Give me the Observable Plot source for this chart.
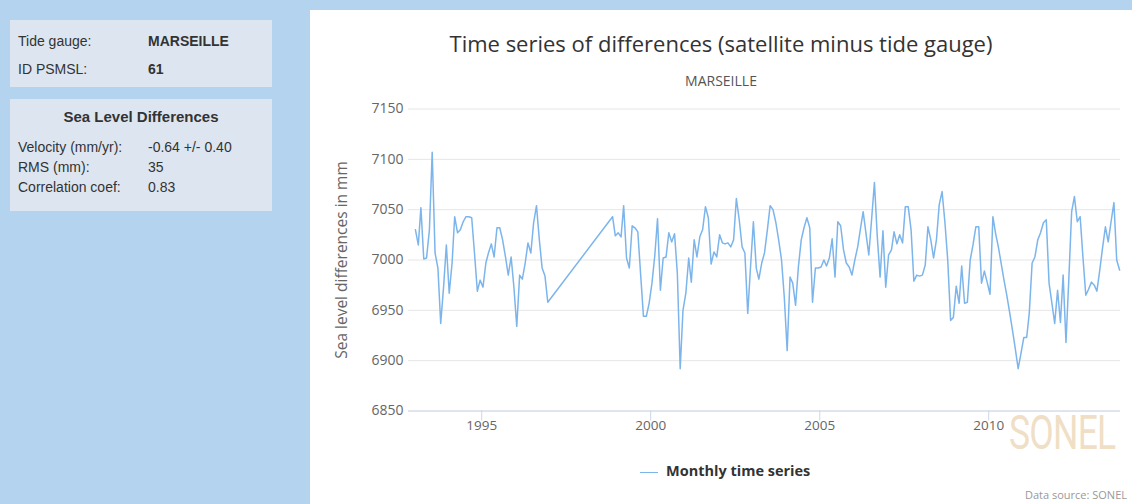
<!DOCTYPE html>
<html>
<head>
<meta charset="utf-8">
<script src="https://cdn.jsdelivr.net/npm/d3@7"></script>
<script src="https://cdn.jsdelivr.net/npm/@observablehq/plot@0.6"></script>
<style>
  html, body { margin: 0; padding: 0; }
  body { width: 1132px; height: 504px; background: #b3d3ee; position: relative; overflow: hidden; font-family: "Liberation Sans", Arial, sans-serif; }
  .panel { position: absolute; left: 10px; width: 262px; background: #dde6f0; color: #333; font-size: 14px; }
  .row { position: absolute; left: 8px; white-space: nowrap; }
  .val { position: absolute; left: 138px; white-space: nowrap; }
  #chartbox { position: absolute; left: 310px; top: 10px; width: 822px; height: 494px; background: #fff; }
  #title { position: absolute; left: 0; width: 822px; top: 18px; text-align: center; font-family: "Open Sans", sans-serif; font-size: 22px; line-height: 30px; color: #333; white-space: nowrap; }
  #subtitle { position: absolute; left: 0; width: 822px; top: 62px; text-align: center; font-family: "Open Sans", sans-serif; font-size: 14px; line-height: 18px; color: #555; }
  #plot { position: absolute; left: 0; top: 78px; }
  #legend { position: absolute; left: 330px; top: 451px; font-family: "Open Sans", sans-serif; font-size: 14.5px; font-weight: bold; color: #333; white-space: nowrap; }
  #legend .swatch { display: inline-block; width: 18px; height: 0; border-top: 1.5px solid #7cb5ec; vertical-align: middle; margin-right: 8px; }
  #source { position: absolute; right: 5px; top: 477px; font-family: "Open Sans", sans-serif; font-size: 11px; color: #999; }
  #watermark { position: absolute; left: 699px; top: 394px; font-family: "Roboto", "Open Sans", sans-serif; font-size: 48px; color: #f0dfc6; letter-spacing: -1px; transform: scaleX(0.74); transform-origin: left top; }
</style>
</head>
<body>
<div class="panel" style="top:20px;height:67px;">
  <div class="row" style="top:13px;">Tide gauge:</div><div class="val" style="top:13px;font-weight:bold;">MARSEILLE</div>
  <div class="row" style="top:41px;">ID PSMSL:</div><div class="val" style="top:41px;font-weight:bold;">61</div>
</div>
<div class="panel" style="top:99px;height:112px;">
  <div style="position:absolute;left:0;width:262px;top:9px;text-align:center;font-weight:bold;font-size:15px;">Sea Level Differences</div>
  <div class="row" style="top:40px;">Velocity (mm/yr):</div><div class="val" style="top:40px;">-0.64 +/- 0.40</div>
  <div class="row" style="top:60px;">RMS (mm):</div><div class="val" style="top:60px;">35</div>
  <div class="row" style="top:80px;">Correlation coef:</div><div class="val" style="top:80px;">0.83</div>
</div>
<div id="chartbox">
  <div id="title">Time series of differences (satellite minus tide gauge)</div>
  <div id="subtitle">MARSEILLE</div>
  <div id="watermark">SONEL</div>
  <div id="plot"></div>
  <div id="legend"><span class="swatch"></span>Monthly time series</div>
  <div id="source">Data source: SONEL</div>
</div>
<script>
// Monthly sea level differences (mm), first segment: Jan 1993 – Dec 1996
const seg1Start = [1993, 0];
const seg1Values = [7030,7015,7052,7001,7002,7030,7107,7007,6992,6937,6973,7015,
  6967,6997,7043,7027,7030,7038,7043,7043,7042,7007,6969,6980,
  6973,6997,7007,7016,7003,7032,7032,7020,7003,6985,7003,6973,
  6934,6985,6981,6997,7017,7007,7037,7054,7020,6992,6984,6958];
// Second segment: Nov 1998 – Nov 2013
const seg2Start = [1998, 10];
const seg2Values = [7043,7024,7027,7023,7054,7002,6992,7034,7032,7028,
  6985,6944,6944,6957,6977,7005,7041,6970,7002,7003,
  7027,7018,7026,6987,6892,6950,6967,7002,6978,7020,
  7003,7023,7030,7053,7042,6996,7008,7003,7025,7017,
  7016,7017,7013,7020,7061,7040,7013,7007,6947,6993,
  7038,6992,6981,6997,7007,7030,7054,7050,7037,7020,
  7000,6963,6910,6983,6977,6955,6993,7020,7032,7042,
  7032,6958,6992,6992,6993,7000,6994,7002,7021,6983,
  7038,7034,7010,6997,6993,6985,7000,7013,7030,7048,
  7027,7005,7040,7077,7023,6983,7029,6973,7005,7010,
  7028,7016,7025,7017,7053,7053,7030,6979,6985,6984,
  6985,6995,7033,7020,7002,7020,7055,7068,7037,7000,
  6940,6943,6974,6957,6994,6957,6958,7000,7015,7033,
  7033,6977,6989,6978,6966,7043,7027,7013,6997,6980,
  6965,6948,6930,6912,6892,6907,6923,6923,6947,6997,
  7003,7020,7027,7037,7040,6977,6957,6937,6970,6938,
  6985,6918,6980,7048,7063,7038,7043,7003,6965,6971,
  6978,6975,6969,6990,7012,7033,7018,7038,7057,7000,6990];
const yTicks = [6850, 6900, 6950, 7000, 7050, 7100, 7150];
const xTickYears = [1995, 2000, 2005, 2010];
const yLabel = "Sea level differences in mm";

const toRows = (start, vals) => vals.map((v, i) => ({
  date: new Date(Date.UTC(start[0], start[1] + i, 15)), value: v
}));
const data = toRows(seg1Start, seg1Values).concat(toRows(seg2Start, seg2Values));
const xTicks = xTickYears.map(y => new Date(Date.UTC(y, 0, 1)));

const chart = Plot.plot({
  width: 822,
  height: 370,
  marginLeft: 98,
  marginRight: 12,
  marginTop: 20.5,
  marginBottom: 47.5,
  style: { fontFamily: "'Open Sans', sans-serif", background: "transparent", overflow: "visible" },
  x: { type: "utc", domain: [new Date(Date.UTC(1992, 10, 1)), new Date(Date.UTC(2013, 10, 25))] },
  y: { domain: [6850, 7150] },
  marks: [
    Plot.gridY(yTicks, { stroke: "#e6e6e6", strokeOpacity: 1 }),
    Plot.ruleY([6850], { stroke: "#ccd6eb" }),
    Plot.axisY(yTicks, { tickSize: 0, tickPadding: 5, fontSize: 14, fill: "#666", tickFormat: d => String(d), label: null }),
    Plot.text([yLabel], { text: d => d, frameAnchor: "left", textAnchor: "middle", lineAnchor: "middle", rotate: -90, dx: -66, fontSize: 15.5, fill: "#666" }),
    Plot.axisX(xTicks, { tickFormat: d => String(d.getUTCFullYear()), tickSize: 10, stroke: "#ccd6eb", strokeOpacity: 1, fill: "#666", fontSize: 13.5, tickPadding: -1, label: null }),
    Plot.line(data, { x: "date", y: "value", stroke: "#7cb5ec", strokeWidth: 1.5 })
  ]
});
document.getElementById("plot").appendChild(chart);
</script>
</body>
</html>
